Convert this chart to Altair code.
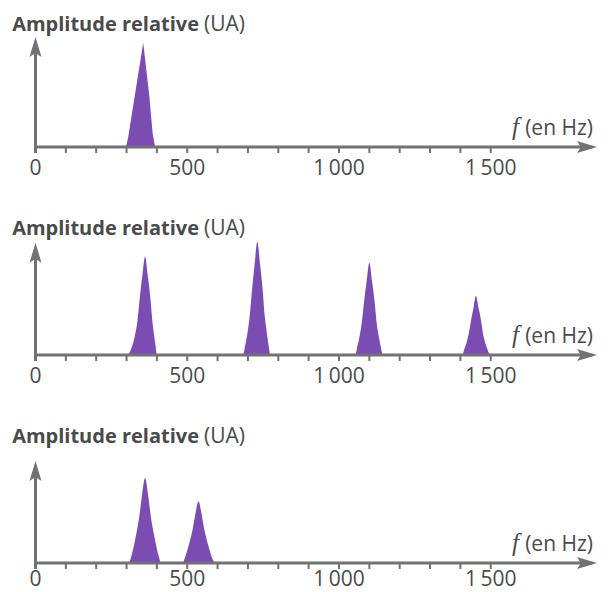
import altair as alt
import pandas as pd

PURPLE = "#7b4cb2"
AXIS = "#727272"
TEXT = "#4a4a4a"
FONT = "Open Sans"

# Frequency axis
tick_freqs = [0, 100, 200, 300, 400, 500, 600, 700, 800, 900, 1000, 1100, 1200, 1300, 1400, 1500]
label_freqs = [0, 500, 1000, 1500]
label_texts = ["0", "500", "1\u2009000", "1\u2009500"]

# Panel 1 : one peak (f in Hz, relative amplitude)
p1_peak = [1, 1, 1, 1, 1, 1, 1]
p1_f = [298, 305, 330, 355, 375, 386, 394]
p1_a = [0, 0.08, 0.50, 0.92, 0.45, 0.12, 0]

# Panel 2 : four harmonics
p2_peak = [1] * 13 + [2] * 13 + [3] * 13 + [4] * 13
p2_f = [306, 318, 329, 336, 343, 352, 361, 370, 379, 385, 390, 396, 400,
        684, 691, 700, 706, 713, 722, 731, 740, 749, 755, 761, 768, 774,
        1054, 1060, 1069, 1075, 1082, 1091, 1100, 1109, 1118, 1124, 1130, 1138, 1144,
        1407, 1412, 1421, 1427, 1434, 1443, 1451, 1460, 1469, 1475, 1481, 1490, 1496]
p2_a = [0, 0.074, 0.19, 0.30, 0.49, 0.70, 0.87, 0.70, 0.49, 0.30, 0.19, 0.074, 0,
        0, 0.085, 0.22, 0.35, 0.56, 0.80, 1.00, 0.80, 0.56, 0.35, 0.22, 0.085, 0,
        0, 0.07, 0.18, 0.285, 0.455, 0.65, 0.815, 0.65, 0.455, 0.285, 0.18, 0.07, 0,
        0, 0.044, 0.115, 0.18, 0.29, 0.415, 0.52, 0.415, 0.29, 0.18, 0.115, 0.044, 0]

# Panel 3 : two peaks
p3_peak = [1] * 13 + [2] * 13
p3_f = [309, 316, 324, 333, 342, 351, 361, 371, 380, 389, 398, 406, 414,
        485, 492, 500, 509, 518, 527, 537, 547, 556, 565, 574, 582, 590]
p3_a = [0, 0.06, 0.15, 0.27, 0.41, 0.60, 0.75, 0.60, 0.41, 0.27, 0.15, 0.06, 0,
        0, 0.044, 0.11, 0.196, 0.30, 0.436, 0.545, 0.436, 0.30, 0.196, 0.11, 0.044, 0]

# y-axis arrow tips (relative amplitude)
arrow_tips = [0.97, 0.99, 0.90]

# layout
W = 594
XDOM = [-90.6, 1866.6]
PXU = 113.3
AXIS_Y = 139
X_ARROW_END = 1850

UP = "M0,0L0.6,2L0,1.6L-0.6,2Z"
RIGHT = "M0,0L-2,-0.6L-1.6,0L-2,0.6Z"


def panel(peak_ids, freqs, amps, interp, tip, title_y, height, label_off):
    xs = alt.Scale(domain=XDOM, nice=False, zero=False)
    ys = alt.Scale(domain=[(AXIS_Y - height) / PXU, AXIS_Y / PXU], nice=False, zero=False)
    df = pd.DataFrame({"peak": peak_ids, "f": freqs, "amp": amps})

    area = alt.Chart(df).mark_area(color=PURPLE, interpolate=interp, opacity=1).encode(
        x=alt.X("f:Q", scale=xs, axis=None),
        y=alt.Y("amp:Q", scale=ys, axis=None),
        detail="peak:N",
    )

    xaxis = alt.Chart(pd.DataFrame({"f0": [0], "f1": [X_ARROW_END - 15]})).mark_rule(
        color=AXIS, strokeWidth=3
    ).encode(
        x=alt.X("f0:Q", scale=xs, axis=None), x2="f1:Q", y=alt.value(AXIS_Y)
    )
    yaxis = alt.Chart(pd.DataFrame({"f": [0], "a0": [-6 / PXU], "a1": [tip - 0.1]})).mark_rule(
        color=AXIS, strokeWidth=3
    ).encode(
        x=alt.X("f:Q", scale=xs, axis=None),
        y=alt.Y("a0:Q", scale=ys, axis=None),
        y2="a1:Q",
    )
    ticks = alt.Chart(pd.DataFrame({"f": tick_freqs})).mark_rule(
        color=AXIS, strokeWidth=2
    ).encode(
        x=alt.X("f:Q", scale=xs, axis=None), y=alt.value(AXIS_Y), y2=alt.value(AXIS_Y + 6)
    )
    yhead = alt.Chart(pd.DataFrame({"f": [0], "a": [tip]})).mark_point(
        shape=UP, filled=True, size=400, color=AXIS, opacity=1, strokeWidth=0
    ).encode(
        x=alt.X("f:Q", scale=xs, axis=None), y=alt.Y("a:Q", scale=ys, axis=None)
    )
    xhead = alt.Chart(pd.DataFrame({"f": [X_ARROW_END], "a": [0]})).mark_point(
        shape=RIGHT, filled=True, size=400, color=AXIS, opacity=1, strokeWidth=0
    ).encode(
        x=alt.X("f:Q", scale=xs, axis=None), y=alt.Y("a:Q", scale=ys, axis=None)
    )
    labels = alt.Chart(pd.DataFrame({"f": label_freqs, "t": label_texts})).mark_text(
        font=FONT, fontSize=21, color=TEXT, align="center", baseline="alphabetic"
    ).encode(
        x=alt.X("f:Q", scale=xs, axis=None), y=alt.value(AXIS_Y + label_off), text="t:N"
    )
    title_b = alt.Chart(pd.DataFrame({"t": ["Amplitude relative"]})).mark_text(
        font=FONT, fontSize=20, fontWeight="bold", color=TEXT, align="right", baseline="alphabetic"
    ).encode(x=alt.value(191), y=alt.value(title_y), text="t:N")
    title_r = alt.Chart(pd.DataFrame({"t": ["(UA)"]})).mark_text(
        font=FONT, fontSize=21, color=TEXT, align="left", baseline="alphabetic"
    ).encode(x=alt.value(196), y=alt.value(title_y), text="t:N")
    f_it = alt.Chart(pd.DataFrame({"t": ["f"]})).mark_text(
        font="Liberation Serif", fontSize=25, fontStyle="italic", color=TEXT,
        align="right", baseline="alphabetic"
    ).encode(x=alt.value(511), y=alt.value(AXIS_Y - 12), text="t:N")
    f_unit = alt.Chart(pd.DataFrame({"t": ["(en Hz)"]})).mark_text(
        font=FONT, fontSize=21, color=TEXT, align="right", baseline="alphabetic"
    ).encode(x=alt.value(585), y=alt.value(AXIS_Y - 12), text="t:N")

    return alt.layer(
        area, xaxis, yaxis, ticks, yhead, xhead, labels, title_b, title_r, f_it, f_unit
    ).properties(width=W, height=height)


c1 = panel(p1_peak, p1_f, p1_a, "linear", arrow_tips[0], 22.8, 208, 27.6)
c2 = panel(p2_peak, p2_f, p2_a, "monotone", arrow_tips[1], 18.8, 208, 27.6)
c3 = panel(p3_peak, p3_f, p3_a, "monotone", arrow_tips[2], 19.3, 168, 23.0)

chart = alt.vconcat(c1, c2, c3, spacing=0, bounds="flush").properties(
    padding=0
).configure_view(stroke=None)

chart.save("out.html", embed_options={"renderer": "svg", "actions": False})
